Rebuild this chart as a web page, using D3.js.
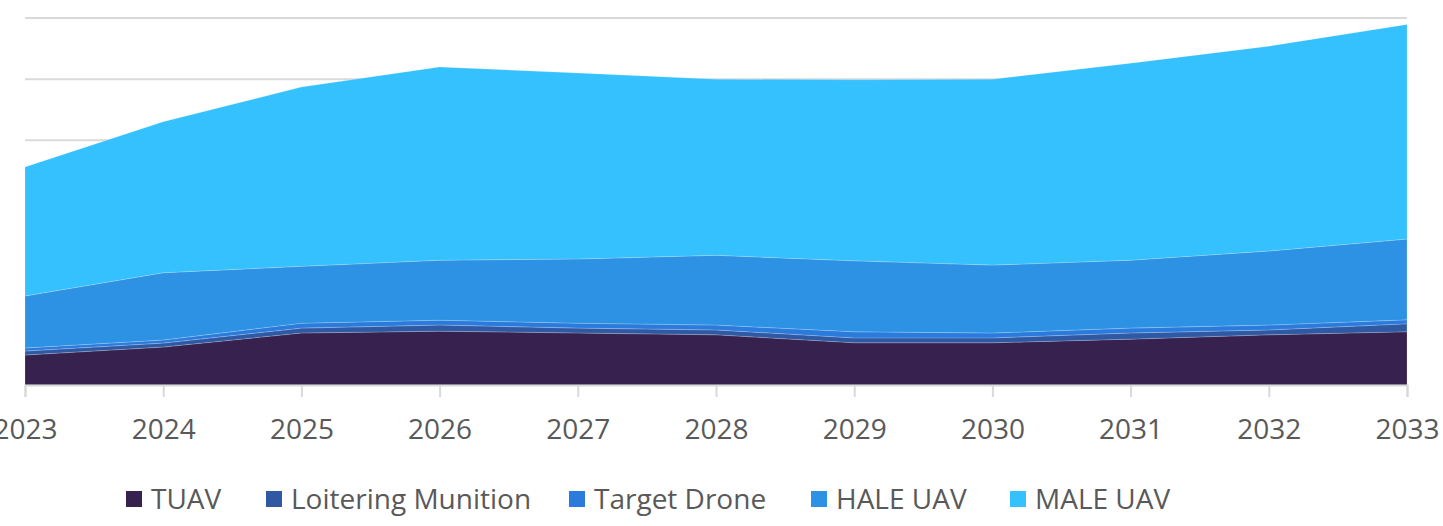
<!DOCTYPE html>
<html>
<head>
<meta charset="utf-8">
<script src="https://cdn.jsdelivr.net/npm/d3@7"></script>
<style>
  html, body { margin: 0; padding: 0; background: #ffffff; }
  svg { display: block; }
  text { font-family: "Open Sans", "Liberation Sans", sans-serif; fill: #595959; }
</style>
</head>
<body>
<svg id="chart" width="1443" height="526"></svg>
<script>
// ---- data ----
const years = ["2023","2024","2025","2026","2027","2028","2029","2030","2031","2032","2033"];
const seriesNames = ["TUAV","Loitering Munition","Target Drone","HALE UAV","MALE UAV"];
const tuav       = [49, 62, 85, 88, 85, 82, 69, 69, 75, 82, 87];
const loitering  = [6.5, 6.5, 8, 10, 8, 8, 8, 8, 10, 8, 13];
const targetDrone= [5, 5, 8, 8, 8, 8, 10, 8, 8, 8, 6.5];
const haleUav    = [85, 110, 93, 98, 105, 114, 116, 111, 111, 121, 132];
const maleUav    = [211, 247, 293, 316, 304, 288, 296, 304, 322, 335, 351];
const yTicks     = [0, 100, 200, 300, 400, 500, 600];
const colors     = ["#36214F", "#2F5AA3", "#2B7BDD", "#2D92E3", "#35C0FE"];

const values = [tuav, loitering, targetDrone, haleUav, maleUav];
const table = years.map((y, i) => {
  const row = { year: y };
  seriesNames.forEach((s, k) => row[s] = values[k][i]);
  return row;
});

const svg = d3.select("#chart");
const x = d3.scalePoint().domain(years).range([25, 1407]);
const y = d3.scaleLinear().domain([0, 600]).range([385, 18]);

// gridlines
svg.append("g").selectAll("line").data(yTicks.slice(1)).join("line")
  .attr("x1", 25).attr("x2", 1407)
  .attr("y1", d => y(d)).attr("y2", d => y(d))
  .attr("stroke", "#d9d9d9").attr("stroke-width", 2);

// stacked areas
const stack = d3.stack().keys(seriesNames);
const layers = stack(table);
const area = d3.area()
  .x(d => x(d.data.year))
  .y0(d => y(d[0]))
  .y1(d => y(d[1]));
svg.append("g").selectAll("path").data(layers).join("path")
  .attr("d", area)
  .attr("fill", (d, i) => colors[i])
  .attr("stroke", "rgba(255,255,255,0.22)")
  .attr("stroke-width", 0.8);

// x axis
const axisG = svg.append("g").attr("transform", `translate(0,${y(0)})`)
  .call(d3.axisBottom(x).tickSize(12).tickPadding(22));
axisG.select(".domain").attr("stroke", "#d9d9d9").attr("stroke-width", 2);
axisG.selectAll(".tick line").attr("stroke", "#d9d9d9").attr("stroke-width", 2);
axisG.selectAll(".tick text")
  .attr("font-size", 28)
  .attr("fill", "#595959")
  .attr("font-family", "Open Sans, Liberation Sans, sans-serif");

// legend
const legendX = [126, 266, 569, 811, 1010];
const legend = svg.append("g");
seriesNames.forEach((s, i) => {
  legend.append("rect")
    .attr("x", legendX[i]).attr("y", 491)
    .attr("width", 16).attr("height", 16)
    .attr("fill", colors[i]);
  legend.append("text")
    .attr("x", legendX[i] + 25).attr("y", 509)
    .attr("font-size", 28)
    .text(s);
});
</script>
</body>
</html>
